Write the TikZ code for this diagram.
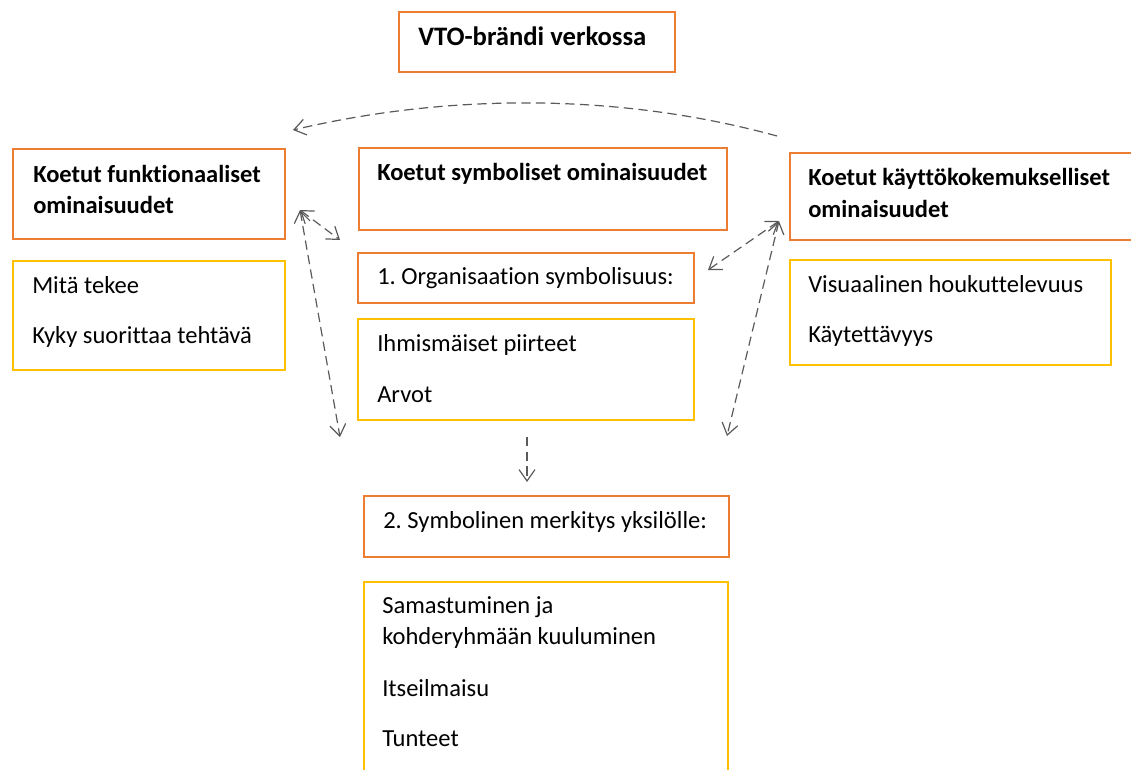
\documentclass[tikz,border=0pt]{standalone}
\usepackage{fontspec}
\setmainfont{Carlito}[Ligatures=NoCommon]
\usetikzlibrary{arrows.meta}
\definecolor{boxorange}{HTML}{ED7D31}
\definecolor{boxyellow}{HTML}{FFC000}
\definecolor{arrgray}{HTML}{5A5A5A}
\frenchspacing

\begin{document}
\begin{tikzpicture}[x=0.75pt, y=-0.75pt,
  txt/.style={anchor=base west, inner sep=0pt, font=\fontsize{18.4}{22}\selectfont},
  hd/.style={anchor=base west, inner sep=0pt, font=\fontsize{18.4}{22}\selectfont\bfseries},
  box/.style={draw, line width=1.7pt, inner sep=0pt, outer sep=0pt},
  tip/.style={-{Straight Barb[length=3mm, width=4.2mm]}},
  arr/.style={arrgray, line width=0.9pt, dash pattern=on 7pt off 4pt},
  darr/.style={arr, {Straight Barb[length=3mm, width=4.2mm]}-{Straight Barb[length=3mm, width=4.2mm]}}]
\clip (0,0) rectangle (1131,769);
% boxes: name/left/top/right/bottom/colour
\foreach \n/\a/\b/\c/\d/\col in {title/399/12/675/72/boxorange, funchd/13/149/285/239/boxorange, funcls/13/261/285/370/boxyellow,
  symbhd/359/148/727/230/boxorange, orgsym/358/253/694/303/boxorange, orgls/358/319/694/420/boxyellow,
  kokhd/790/153/1150/240/boxorange, kokls/790/260/1111/365/boxyellow,
  yksil/364/496/729/557/boxorange, yksls/364/582/728/800/boxyellow}
  { \node[box, draw=\col, minimum width={(\c-\a)*0.75pt}, minimum height={(\d-\b)*0.75pt}] (\n) at ({(\a+\c)/2},{(\b+\d)/2}) {}; }
% headings
\node[hd, font=\fontsize{20}{24}\selectfont\bfseries] (ttl) at (418,45) {VTO-brändi verkossa};
\foreach \n/\x/\y/\t in {fh1/33/182/Koetut funktionaaliset, fh2/33/213/ominaisuudet, sh1/377/180/Koetut symboliset ominaisuudet,
  kh1/808/185/Koetut käyttökokemukselliset, kh2/808/217/ominaisuudet}
  { \node[hd] (\n) at (\x,\y) {\t}; }
% items
\foreach \n/\x/\y/\t in {f1/32/293/Mitä tekee, f2/32/343/Kyky suorittaa tehtävä, k1/808/292/Visuaalinen houkuttelevuus, k2/808/342/Käytettävyys,
  o0/377/284/1. Organisaation symbolisuus:, o1/377/351/Ihmismäiset piirteet, o2/377/402/Arvot,
  y0/383/528/2. Symbolinen merkitys yksilölle:, y1/382/613/Samastuminen ja, y2/382/644/kohderyhmään kuuluminen,
  y3/382/696/Itseilmaisu, y4/382/746/Tunteet}
  { \node[txt] (\n) at (\x,\y) {\t}; }
% arrow ends
\coordinate (lo) at (300,210); \coordinate (l1) at (340,240); \coordinate (l2) at (340,437);
\coordinate (ro) at (779,221); \coordinate (r1) at (708,270); \coordinate (r2) at (727,436);
\coordinate (dtop) at (527,437); \coordinate (dbot) at (527,482);
\coordinate (cs) at (777,136); \coordinate (ce) at (293,130);
\draw[darr] (lo) -- (l1);
\draw[darr] (lo) -- (l2);
\draw[darr] (ro) -- (r1);
\draw[darr] (ro) -- (r2);
\draw[arr, tip] (dtop) -- (dbot);
\draw[arr, tip] (cs) .. controls (620,93) and (450,93) .. (ce);
\end{tikzpicture}
\end{document}
